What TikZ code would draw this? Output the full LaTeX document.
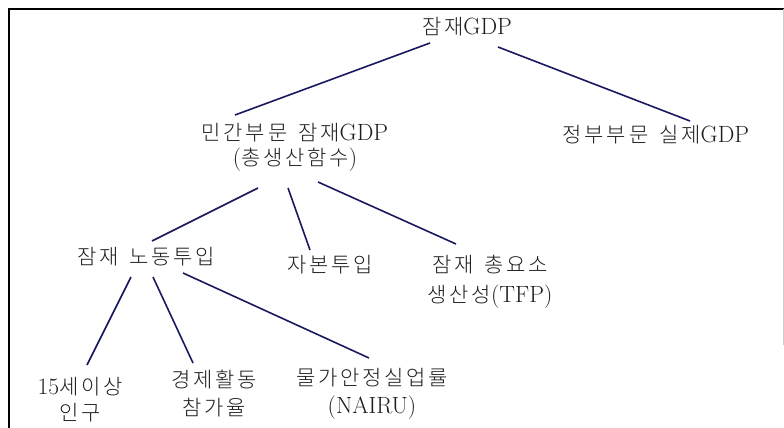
\documentclass[tikz,border=0pt]{standalone}
\usepackage{fontspec}
\newfontfamily\kr[LetterSpace=13,UprightFont={* Light}]{Noto Sans CJK KR}
\definecolor{navy}{RGB}{25,25,95}
\definecolor{ink}{RGB}{30,30,30}
\newcommand{\ko}[1]{{\fontsize{21}{27}\kr #1}}
\newcommand{\ks}{\hspace{11pt}}
\begin{document}
\begin{tikzpicture}[x=1pt,y=-1pt,
  lbl/.style={inner sep=0pt, align=center, text=ink, font=\fontsize{23.5}{27}\selectfont},
  conn/.style={navy, line width=1.6pt},
  frame/.style={black, line width=2pt}]
\useasboundingbox (0,0) rectangle (784,428);
\draw[frame] (9,428) -- (9,9) -- (784,9);
\draw[gray!40, line width=0.8pt] (783.5,9) -- (783.5,345);

\node[lbl] (top) at (467,27) {\ko{잠재}GDP};
\node[lbl] (priv) at (295,147) {\ko{민간부문}\ks\ko{잠재}GDP\\[-2pt](\ko{총생산함수})};
\node[lbl] (gov) at (656,135) {\ko{정부부문}\ks\ko{실제}GDP};
\node[lbl] (labor) at (146,257) {\ko{잠재}\ks\ko{노동투입}};
\node[lbl] (capital) at (330,265) {\ko{자본투입}};
\node[lbl] (tfp) at (490,282) {\ko{잠재}\ks\ko{총요소}\\[3pt]\ko{생산성}(TFP)};
\node[lbl] (pop) at (80,400) {15\ko{세이상}\\[-1pt]\ko{인구}};
\node[lbl] (part) at (214,394) {\ko{경제활동}\\[1pt]\ko{참가율}};
\node[lbl] (nairu) at (372,394) {\ko{물가안정실업률}\\[1pt](NAIRU)};

\draw[conn] ([shift={(-37,16)}]top.center) -- ([shift={(-60,-32)}]priv.center);
\draw[conn] ([shift={(31,20)}]top.center) -- ([shift={(34,-14)}]gov.center);
\draw[conn] ([shift={(-37,41)}]priv.center) -- ([shift={(6,-16)}]labor.center);
\draw[conn] ([shift={(-7,41)}]priv.center) -- ([shift={(-20,-15)}]capital.center);
\draw[conn] ([shift={(23,35)}]priv.center) -- ([shift={(-34,-38)}]tfp.center);
\draw[conn] ([shift={(-15,20)}]labor.center) -- ([shift={(7,-35)}]pop.center);
\draw[conn] ([shift={(7,20)}]labor.center) -- ([shift={(-21,-31)}]part.center);
\draw[conn] ([shift={(37,16)}]labor.center) -- ([shift={(-3,-36)}]nairu.center);
\end{tikzpicture}
\end{document}
